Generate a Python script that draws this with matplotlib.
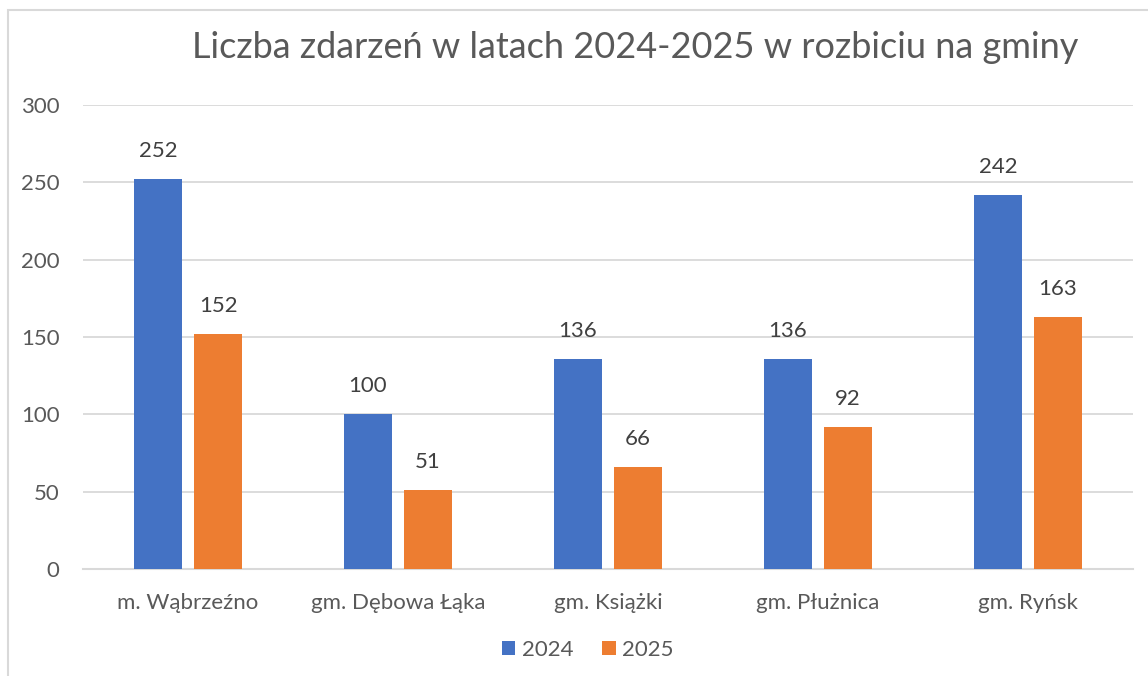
import matplotlib
matplotlib.use("Agg")
import matplotlib.pyplot as plt
from matplotlib.patches import Rectangle, Patch
import numpy as np

categories = ["m. Wąbrzeźno", "gm. Dębowa Łąka", "gm. Książki", "gm. Płużnica", "gm. Ryńsk"]
series_names = ["2024", "2025"]
values_2024 = [252, 100, 136, 136, 242]
values_2025 = [152, 51, 66, 92, 163]
yticks = [0, 50, 100, 150, 200, 250, 300]
title = "Liczba zdarzeń w latach 2024-2025 w rozbiciu na gminy"

plt.rcParams['font.family'] = ['Lato', 'DejaVu Sans']

W, H = 1148, 676
fig = plt.figure(figsize=(W / 100, H / 100), dpi=100)
fig.patch.set_facecolor("white")

# chart border
fig.patches.append(Rectangle((8 / W, -0.1), 1.2, (H - 10) / H + 0.1,
                             transform=fig.transFigure, fill=False,
                             edgecolor="#d9d9d9", linewidth=1.5))

ax = fig.add_axes([83 / W, 1 - 569 / H, (1133 - 83) / W, (569 - 105) / H])
x = np.arange(len(categories))
bw = 0.229
off = 0.143
c1, c2 = "#4472C4", "#ED7D31"
b1 = ax.bar(x - off, values_2024, bw, color=c1, zorder=3)
b2 = ax.bar(x + off, values_2025, bw, color=c2, zorder=3)

fs = 16
for bars, vals in ((b1, values_2024), (b2, values_2025)):
    for r, v in zip(bars, vals):
        ax.annotate(str(v), (r.get_x() + r.get_width() / 2, v),
                    xytext=(0, 13), textcoords="offset points",
                    ha="center", va="bottom", fontsize=fs, color="#404040")

ax.set_xlim(-0.5, len(categories) - 0.5)
ax.set_ylim(0, 300)
ax.set_yticks(yticks)
ax.set_yticklabels([str(t) for t in yticks], fontsize=fs, color="#595959")
ax.set_xticks(x)
ax.set_xticklabels(categories, fontsize=fs, color="#595959")
ax.tick_params(axis="both", length=0)
ax.tick_params(axis="y", pad=17)
ax.tick_params(axis="x", pad=17)
ax.grid(axis="y", color="#d9d9d9", linewidth=1.3, zorder=0)
for s in ["top", "right", "left"]:
    ax.spines[s].set_visible(False)
ax.spines["bottom"].set_color("#d9d9d9")
ax.spines["bottom"].set_linewidth(1.5)

fig.text(635 / W, 1 - 48 / H, title, ha="center", va="center",
         fontsize=26, color="#595959")

handles = [Patch(facecolor=c1), Patch(facecolor=c2)]
fig.legend(handles, series_names, loc="center", bbox_to_anchor=(588 / W, 1 - 650 / H),
           ncol=2, frameon=False, fontsize=fs, labelcolor="#595959",
           handlelength=0.6, handleheight=0.6, handletextpad=0.3, columnspacing=1.3)

fig.savefig("out.png", dpi=100, facecolor="white")
